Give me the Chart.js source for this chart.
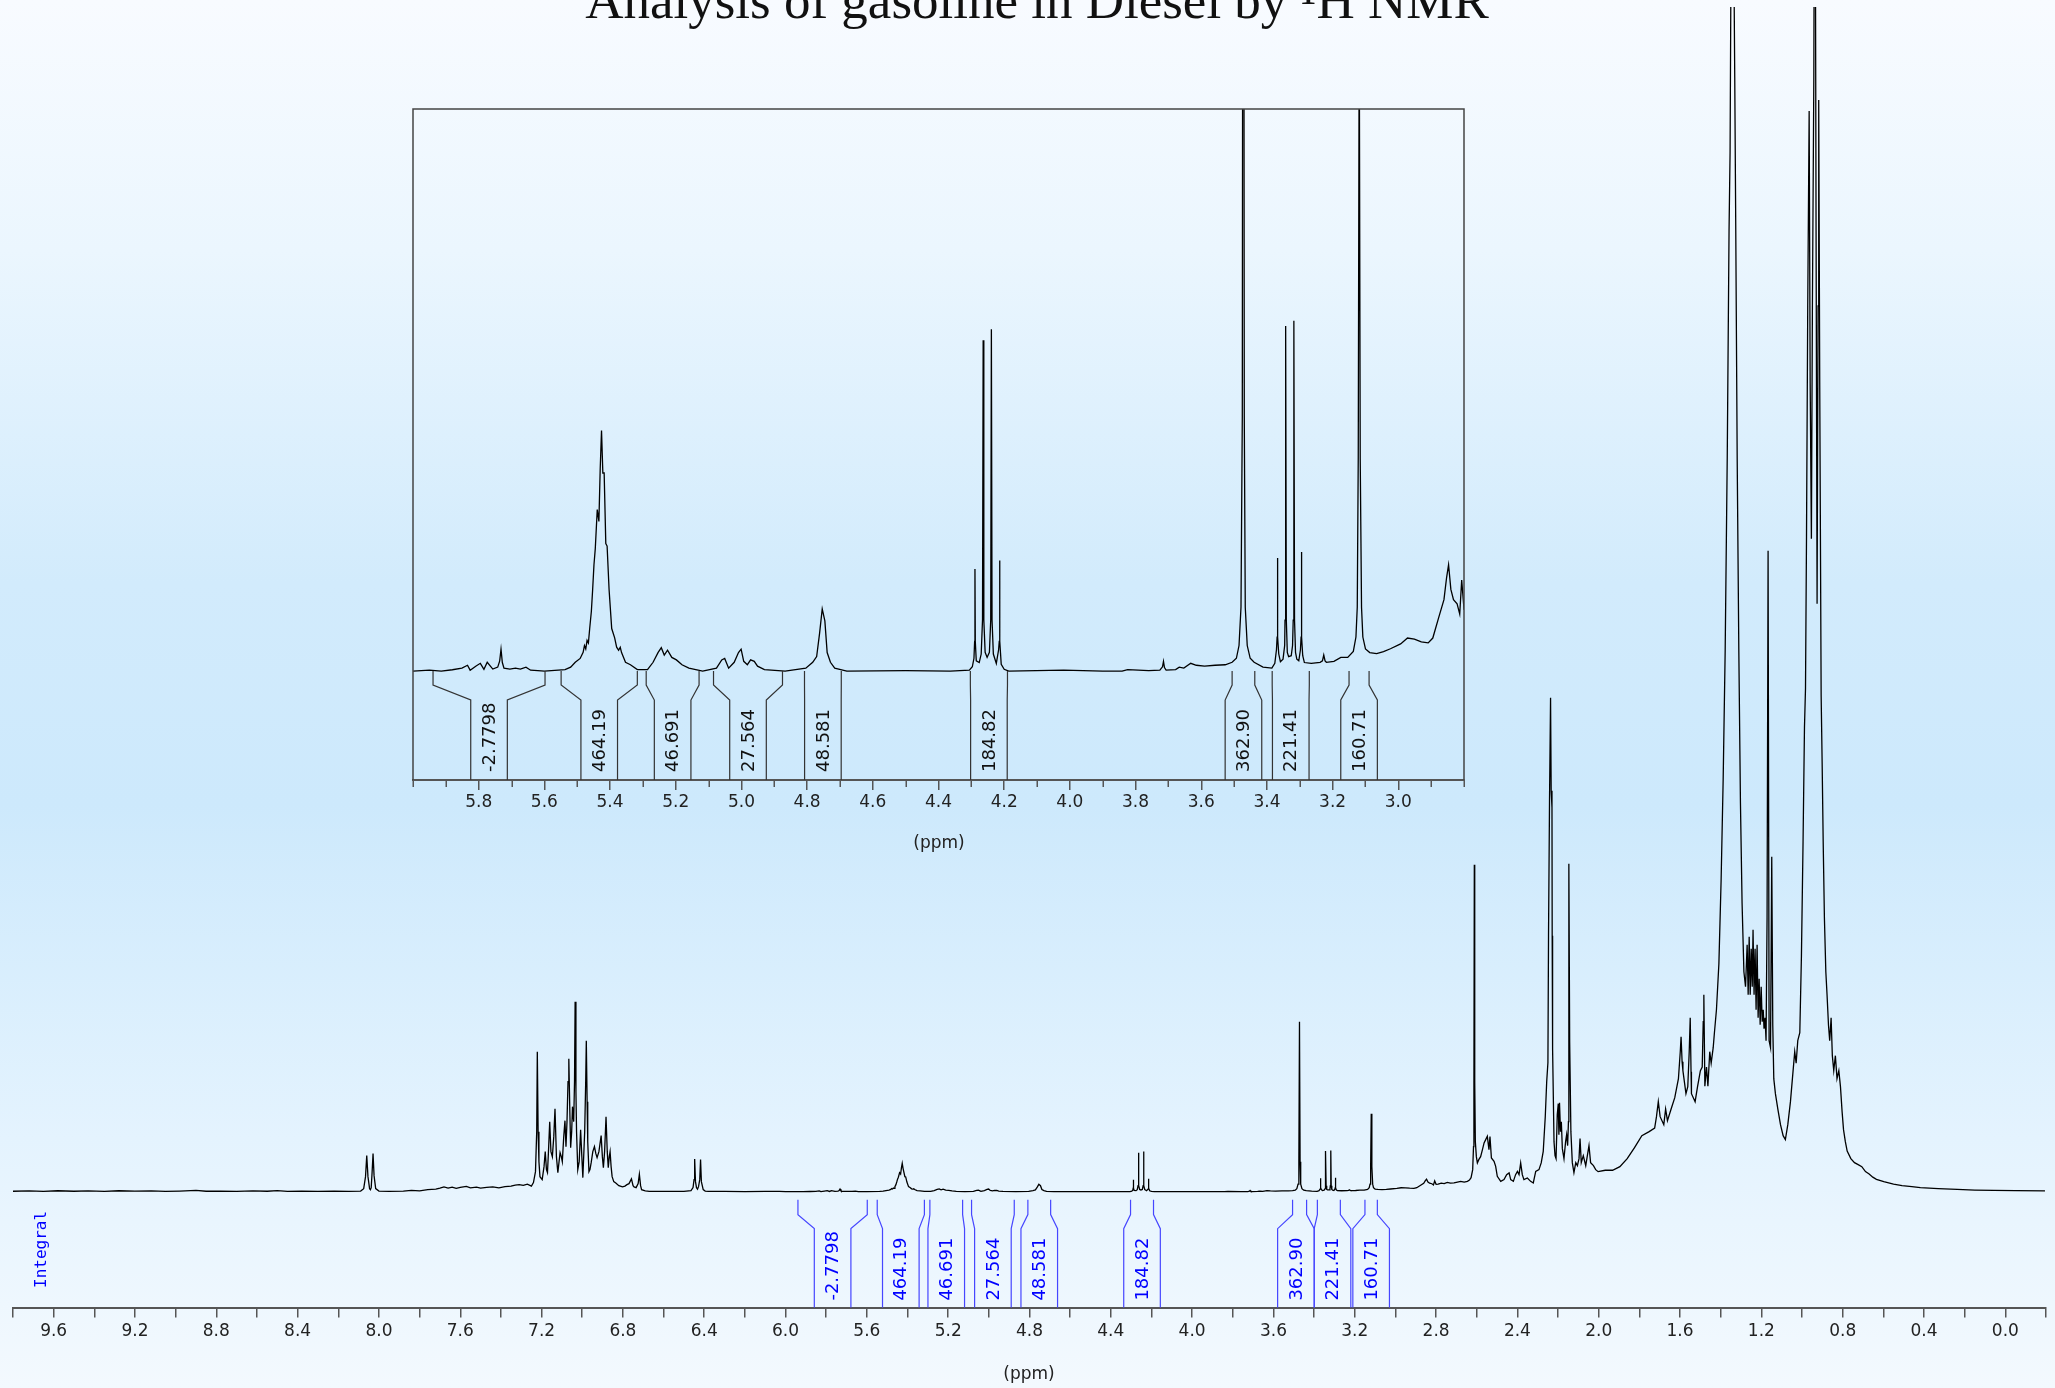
<!DOCTYPE html>
<html>
<head>
<meta charset="utf-8">
<title>Analysis of gasoline in Diesel by 1H NMR</title>
<script src="https://cdn.jsdelivr.net/npm/chart.js@4.4.1/dist/chart.umd.min.js"></script>
<style>
    html, body { margin: 0; padding: 0; }
    body {
        width: 2055px;
        height: 1388px;
        overflow: hidden;
        position: relative;
        background: linear-gradient(to bottom, #f8fbff 0%, #ebf6fe 18%, #d2ebfc 42%, #cde9fc 58%, #e4f3fe 82%, #f3f9fe 100%);
    }
    #main { position: absolute; left: 0; top: 0; }
    #inset { position: absolute; left: 400px; top: 100px; }
</style>
</head>
<body>
<canvas id="main" width="2055" height="1388"></canvas>
<canvas id="inset" width="1080" height="760"></canvas>
<script>
// spectrum: [ppm, intensity]
const farDownfield = [
    [9.80,0.4],[9.72,0.8],[9.65,0.3],[9.58,0.9],[9.50,0.4],[9.43,0.8],[9.35,0.3],[9.28,0.9],[9.20,0.5],[9.12,0.8],
    [9.05,0.2],[8.98,0.6],[8.90,1.2],[8.85,0.4],[8.78,0.6],[8.70,0.3],[8.62,0.7],[8.55,0.4],[8.50,1.0],[8.45,0.3],
    [8.38,0.5],[8.30,0.2],[8.22,0.5],[8.15,0.3],[8.09,0.6],
    [8.075,3],[8.066,15],[8.060,36],[8.054,15],[8.046,3],[8.042,2],[8.038,4],[8.034,18],[8.029,38],[8.024,16],
    [8.016,3],[8.00,0.5],[7.95,0.3]
];
const aromatic = [
    [7.88,0.5],[7.84,1.2],[7.80,0.8],[7.76,2.0],[7.72,2.5],[7.70,3.5],[7.68,4.7],[7.66,3.5],[7.64,4.5],[7.62,3.2],
    [7.60,4.2],[7.57,5.3],[7.55,3.8],[7.52,4.5],[7.50,3.5],[7.47,4.2],[7.44,4.7],[7.41,3.8],[7.38,5.0],[7.35,5.5],
    [7.33,6.5],[7.31,7.0],[7.29,6.2],[7.27,7.5],[7.25,5.5],[7.24,9],[7.23,20],[7.224,60],[7.221,140],[7.217,60],
    [7.213,30],[7.208,15],[7.197,12],[7.188,25],[7.182,40],[7.176,22],[7.171,19],[7.165,45],[7.160,70],[7.154,40],
    [7.147,35],[7.140,55],[7.134,83],[7.127,35],[7.120,19],[7.114,30],[7.109,39],[7.103,35],[7.098,30],[7.091,55],
    [7.085,71],[7.080,45],[7.075,70],[7.070,110],[7.066,133],[7.061,80],[7.057,44],[7.052,60],[7.048,85],[7.042,70],
    [7.038,110],[7.035,190],[7.031,100],[7.028,60],[7.022,22],[7.015,30],[7.008,62],[7.002,35],[6.997,14],[6.988,60],
    [6.983,110],[6.980,151],[6.976,90],[6.973,50],[6.967,20],[6.962,22],[6.956,29],[6.948,40],[6.940,45],[6.933,38],
    [6.927,34],[6.918,40],[6.907,56],[6.901,35],[6.896,24],[6.890,40],[6.883,75],[6.877,40],[6.872,24],[6.867,35],
    [6.863,40],[6.858,25],[6.853,15],[6.845,10],[6.835,8.7],[6.820,6],[6.802,4.7],[6.790,5.5],[6.780,7],[6.770,8],
    [6.758,12.7],[6.750,6],[6.745,4.7],[6.735,4],[6.725,8],[6.719,17.3],[6.713,6],[6.708,2],[6.690,0.8],[6.670,0.3],
    [6.60,0.2],[6.50,0.3],[6.465,1],[6.455,4],[6.450,12],[6.447,32.7],[6.443,10],[6.438,4],[6.433,2.5],[6.428,5],
    [6.422,12],[6.418,32],[6.414,10],[6.405,2],[6.395,0.6],[6.38,0.2],[6.30,0.3],[6.20,0.1],[6.10,0.3],[6.03,0.2]
];
const olefinic = [
    [6.00,0],[5.95,0.1],[5.914,0],[5.88,0.15],[5.851,0.34],[5.834,0.68],[5.826,0.1],[5.809,0.57],[5.795,0.91],[5.784,0.2],
    [5.774,1.03],[5.757,0.23],[5.742,0.46],[5.736,1.2],[5.732,2.57],[5.728,1.0],[5.723,0.34],[5.705,0.23],[5.688,0.34],[5.673,0.23],
    [5.656,0.46],[5.642,0.1],[5.62,0.05],[5.600,0],[5.537,0.17],[5.520,0.46],[5.506,1.03],[5.491,1.48],[5.482,2.2],[5.478,3.0],
    [5.474,2.6],[5.470,3.6],[5.466,3.3],[5.462,5.0],[5.457,7.0],[5.453,9.6],[5.449,12.5],[5.445,14.4],[5.439,19.0],[5.434,17.6],
    [5.430,23.8],[5.426,28.3],[5.422,23.3],[5.418,23.3],[5.413,15.0],[5.409,14.7],[5.403,9.6],[5.395,5.0],[5.386,3.9],[5.380,2.8],
    [5.374,2.45],[5.369,2.8],[5.365,2.17],[5.353,1.03],[5.338,0.74],[5.317,0.17],[5.286,0.17],[5.269,1.03],[5.254,2.17],[5.244,2.74],
    [5.235,1.88],[5.225,2.45],[5.212,1.6],[5.198,1.31],[5.181,0.74],[5.160,0.34],[5.118,0],[5.076,0.34],[5.060,1.31],[5.051,1.48],
    [5.039,0.34],[5.022,1.03],[5.009,2.17],[5.001,2.57],[4.993,1.14],[4.982,0.74],[4.972,1.31],[4.961,1.14],[4.951,0.57],[4.930,0.17],
    [4.867,0],[4.804,0.34],[4.783,1.03],[4.771,1.71],[4.762,4.45],[4.754,7.3],[4.746,5.9],[4.739,2.17],[4.729,1.03],[4.716,0.34],
    [4.679,0]
];
const midfield = [
    [4.50,0.05],[4.364,0],[4.306,0.1],[4.297,0.5],[4.292,1.5],[4.290,3.5],[4.289,12.0],[4.288,3.5],[4.285,1.2],[4.276,1.0],
    [4.270,2.0],[4.266,6],[4.264,38.9],[4.262,6],[4.258,2.2],[4.252,1.6],[4.245,2.2],[4.241,6],[4.239,40.2],[4.237,6],
    [4.233,2.0],[4.224,0.9],[4.217,2.5],[4.215,3.5],[4.214,13.0],[4.213,3.5],[4.209,0.8],[4.200,0.2],[4.186,0],[4.019,0.1],
    [3.900,0],[3.841,0],[3.824,0.17],[3.760,0.05],[3.726,0.1],[3.718,0.5],[3.715,1.14],[3.712,0.4],[3.707,0.1],[3.678,0.17],
    [3.667,0.46],[3.653,0.34],[3.632,0.91],[3.615,0.68],[3.590,0.57],[3.558,0.68],[3.527,0.74],[3.506,1.03],[3.493,1.5],[3.485,3.0],
    [3.479,7.5],[3.475,30],[3.472,170],[3.469,30],[3.466,7.5],[3.460,3.0],[3.451,1.5],[3.439,1.03],[3.412,0.46],[3.385,0.34],
    [3.376,0.9],[3.371,2.5],[3.369,4],[3.368,13.3],[3.367,4],[3.364,2.0],[3.359,1.1],[3.351,1.4],[3.346,3],[3.345,6],
    [3.343,40.6],[3.341,6],[3.338,2.2],[3.334,1.7],[3.326,1.8],[3.322,3],[3.320,6],[3.318,41.2],[3.316,6],[3.313,2.2],
    [3.309,1.4],[3.303,1.2],[3.298,2.5],[3.296,4],[3.295,14.0],[3.294,4],[3.291,1.8],[3.286,1.0],[3.265,0.91],[3.238,1.03],
    [3.231,1.2],[3.227,1.88],[3.223,1.2],[3.219,1.03],[3.196,1.14],[3.175,1.6],[3.154,1.6],[3.137,2.3],[3.129,4.0],[3.125,7.5],
    [3.122,25],[3.119,78],[3.116,25],[3.112,7.5],[3.108,4.0],[3.100,2.6],[3.087,2.17],[3.066,2.05],[3.045,2.28],[3.024,2.62],
    [2.993,3.19],[2.972,3.88],[2.951,3.76],[2.930,3.42],[2.909,3.31],[2.895,3.88],[2.878,6.16],[2.861,8.4],[2.853,11.0],[2.847,12.5],
    [2.840,9.6],[2.832,8.4],[2.821,7.9],[2.813,6.7],[2.807,10.7],[2.800,7.3]
];
const aliphatic = [
    [2.790,7.5],[2.775,8.5],[2.760,8.0],[2.745,9.3],[2.730,8.6],[2.712,8.7],[2.695,9.5],[2.679,10.3],[2.662,9.5],[2.646,10.3],
    [2.636,11.5],[2.628,14],[2.620,22],[2.616,45],[2.614,110],[2.612,327],[2.610,110],[2.607,50],[2.602,35],[2.597,28.7],
    [2.590,32],[2.581,35],[2.572,42],[2.564,48.7],[2.556,52],[2.548,55.3],[2.540,42],[2.535,55],[2.528,33.7],[2.515,30.3],
    [2.507,25.3],[2.499,15.3],[2.482,10.3],[2.466,12],[2.453,17],[2.441,18.7],[2.433,12],[2.420,10.3],[2.409,17],[2.400,20.3],
    [2.392,17],[2.384,28.7],[2.376,17],[2.368,12],[2.351,13.7],[2.335,10.3],[2.322,8.7],[2.310,20.3],[2.294,22],[2.283,28.7],
    [2.273,40.3],[2.263,75],[2.256,110],[2.250,129],[2.247,256],[2.242,394],[2.237,494],[2.234,401],[2.230,384],[2.229,256],
    [2.227,143],[2.220,50],[2.215,36],[2.210,33],[2.204,77],[2.199,88],[2.196,57],[2.193,89],[2.188,60],[2.184,70],
    [2.179,43],[2.171,33],[2.163,50],[2.158,57],[2.153,46],[2.149,70],[2.147,328],[2.143,150],[2.137,60],[2.130,29],
    [2.122,19],[2.113,29],[2.105,26],[2.097,33],[2.092,53],[2.086,29],[2.076,36],[2.064,26],[2.056,36],[2.048,46],
    [2.040,29],[2.026,26],[2.015,22],[2.003,20],[1.968,21.4],[1.932,21.4],[1.896,25],[1.860,33],[1.824,44],[1.788,56],
    [1.752,60],[1.725,63.5],[1.716,75],[1.707,90],[1.698,75],[1.680,67],[1.671,82.6],[1.662,71],[1.644,82.6],[1.626,94],
    [1.608,113],[1.599,140],[1.595,155],[1.590,130],[1.586,121],[1.571,98],[1.562,105],[1.555,140],[1.550,174],[1.546,120],
    [1.544,98],[1.526,90],[1.514,105],[1.500,121]
];
const methyl = [
    [1.491,124.7],[1.486,170],[1.483,197],[1.478,105.5],[1.470,124.7],[1.463,105.5],[1.454,140],[1.447,128.5],[1.437,144],[1.431,159],
    [1.421,182],[1.409,228],[1.398,312],[1.388,412],[1.378,542],[1.368,733],[1.359,962],[1.354,1039],[1.349,1250],[1.342,1600],
    [1.336,1250],[1.331,1115],[1.326,962],[1.319,733],[1.311,542],[1.303,389],[1.295,289],[1.286,220],[1.278,205],[1.270,247],
    [1.265,197],[1.260,255],[1.255,197],[1.250,243],[1.245,205],[1.241,262],[1.236,197],[1.231,243],[1.226,182],[1.221,247],
    [1.216,174],[1.211,213],[1.206,167],[1.201,205],[1.196,170],[1.191,182],[1.187,163],[1.182,174],[1.177,151],[1.172,274],
    [1.167,641],[1.162,151],[1.155,144],[1.149,335],[1.144,167],[1.139,113],[1.131,98],[1.119,82.6],[1.106,67],[1.093,56],
    [1.082,52],[1.070,67],[1.057,90],[1.044,121],[1.036,140],[1.029,128.5],[1.021,151],[1.011,159],[1.003,235.6],[0.995,350],
    [0.988,465],[0.983,503],[0.978,656],[0.972,886],[0.965,1081],[0.960,809],[0.954,653],[0.949,886],[0.942,1115],[0.937,1500],
    [0.931,962],[0.926,588],[0.921,886],[0.918,1092],[0.913,809],[0.906,496],[0.901,427],[0.896,350],[0.890,274],[0.883,220],
    [0.877,197],[0.870,167],[0.864,151],[0.857,174],[0.851,136],[0.844,121],[0.836,136],[0.828,113],[0.819,121],[0.811,105],
    [0.803,80],[0.796,62],[0.787,50],[0.778,40.5],[0.760,33],[0.742,29],[0.724,27],[0.706,25],[0.688,20],[0.670,17.6],
    [0.652,14.5],[0.634,12.3],[0.598,10],[0.550,7.5],[0.508,6],[0.460,5],[0.418,4],[0.330,3],[0.237,2.2],[0.150,1.6],
    [0.057,1.3],[-0.05,1.0],[-0.195,0.7]
];

// integrals (ppm range and value)
const integralFrom = [5.939, 5.549, 5.290, 5.085, 4.808, 4.303, 3.506, 3.384, 3.150];
const integralTo = [5.598, 5.317, 5.129, 4.875, 4.696, 4.190, 3.437, 3.271, 3.089];
const integralValues = [-2.7798, 464.19, 46.691, 27.564, 48.581, 184.82, 362.90, 221.41, 160.71];

// tick labels
const mainTickLabels = [9.6, 9.2, 8.8, 8.4, 8.0, 7.6, 7.2, 6.8, 6.4, 6.0, 5.6, 5.2, 4.8, 4.4, 4.0, 3.6, 3.2, 2.8, 2.4, 2.0, 1.6, 1.2, 0.8, 0.4, 0.0];
const insetTickLabels = [5.8, 5.6, 5.4, 5.2, 5.0, 4.8, 4.6, 4.4, 4.2, 4.0, 3.8, 3.6, 3.4, 3.2, 3.0];

const spectrum = [...farDownfield, ...aromatic, ...olefinic, ...midfield, ...aliphatic, ...methyl]
    .map(p => ({ x: p[0], y: p[1] }));

function tickValues(from, to, step) {
    const out = [];
    const n = Math.round((to - from) / step);
    for (let i = 0; i <= n; i++) out.push(Math.round((from + i * step) * 10) / 10);
    return out;
}

function isLabelled(list, v) {
    const r = Math.round(v * 10) / 10;
    return list.some(l => Math.abs(l - r) < 1e-6);
}

function labelFor(list) {
    return v => isLabelled(list, v) ? Math.abs(Math.round(v * 10) / 10).toFixed(1) : '';
}

const tickFont = { family: 'DejaVu Sans', size: 17 };

// integral brackets + rotated values
const integralPlugin = {
    id: 'integrals',
    afterDatasetsDraw(chart, args, opts) {
        const { ctx, chartArea, scales: { x, y } } = chart;
        const base = y.getPixelForValue(0);
        const hw = opts.hw;
        const items = integralFrom.map((f, i) => {
            const l = x.getPixelForValue(f);
            const r = x.getPixelForValue(integralTo[i]);
            return { l, r, c: (l + r) / 2, v: integralValues[i] };
        });
        // keep labels from overlapping
        for (let k = 0; k < 30; k++) {
            for (let i = 1; i < items.length; i++) {
                const gap = items[i].c - items[i - 1].c;
                if (gap < 2 * hw) {
                    const d = (2 * hw - gap) / 2;
                    items[i - 1].c -= d;
                    items[i].c += d;
                }
            }
        }
        const yTop = base + opts.top, yS1 = base + opts.s1, yS2 = base + opts.s2, yBot = chartArea.bottom;
        ctx.save();
        ctx.strokeStyle = opts.lineColor;
        ctx.lineWidth = 1.2;
        items.forEach(it => {
            ctx.beginPath();
            ctx.moveTo(it.l, yTop); ctx.lineTo(it.l, yS1); ctx.lineTo(it.c - hw, yS2); ctx.lineTo(it.c - hw, yBot);
            ctx.moveTo(it.r, yTop); ctx.lineTo(it.r, yS1); ctx.lineTo(it.c + hw, yS2); ctx.lineTo(it.c + hw, yBot);
            ctx.stroke();
        });
        ctx.fillStyle = opts.textColor;
        ctx.font = '18px "DejaVu Sans"';
        ctx.textAlign = 'left';
        ctx.textBaseline = 'middle';
        items.forEach(it => {
            ctx.save();
            ctx.translate(it.c + 1, yBot - opts.gap);
            ctx.rotate(-Math.PI / 2);
            ctx.fillText(it.v.toPrecision(5), 0, 0);
            ctx.restore();
        });
        ctx.restore();
    }
};

const mainTextPlugin = {
    id: 'mainText',
    afterDraw(chart) {
        const ctx = chart.ctx;
        ctx.save();
        ctx.fillStyle = '#111';
        ctx.font = '53px "Liberation Serif"';
        ctx.textAlign = 'center';
        ctx.textBaseline = 'alphabetic';
        ctx.fillText('Analysis of gasoline in Diesel by \u00B9H NMR', 1037, 18);

        ctx.font = '17px "DejaVu Sans"';
        ctx.textBaseline = 'middle';
        ctx.fillStyle = '#222';
        ctx.fillText('(ppm)', 1029, 1375);

        ctx.fillStyle = '#0000ff';
        ctx.font = '16px "DejaVu Sans Mono"';
        ctx.translate(42, 1288);
        ctx.rotate(-Math.PI / 2);
        ctx.textAlign = 'left';
        ctx.fillText('Integral', 0, 0);
        ctx.restore();
    }
};

const insetTextPlugin = {
    id: 'insetText',
    afterDatasetsDraw(chart) {
        const { ctx, chartArea: a, scales: { x } } = chart;
        ctx.save();
        ctx.strokeStyle = '#444';
        ctx.lineWidth = 1.5;
        ctx.beginPath();
        ctx.moveTo(a.left, a.bottom); ctx.lineTo(a.left, a.top);
        ctx.lineTo(a.right, a.top); ctx.lineTo(a.right, a.bottom);
        ctx.stroke();
        // shorter minor ticks between the labelled ones
        ctx.strokeStyle = '#555';
        ctx.beginPath();
        x.ticks.forEach(t => {
            if (isLabelled(insetTickLabels, t.value)) return;
            const px = Math.round(x.getPixelForValue(t.value)) + 0.25;
            ctx.moveTo(px, a.bottom);
            ctx.lineTo(px, a.bottom + 7);
        });
        ctx.stroke();
        ctx.fillStyle = '#222';
        ctx.font = '17px "DejaVu Sans"';
        ctx.textAlign = 'center';
        ctx.textBaseline = 'middle';
        ctx.fillText('(ppm)', 539, 744);
        ctx.restore();
    }
};

function spectrumDataset() {
    return {
        data: spectrum,
        borderColor: '#000',
        borderWidth: 1.3,
        pointRadius: 0,
        tension: 0,
        fill: false
    };
}

// whole spectrum
new Chart(document.getElementById('main'), {
    type: 'line',
    data: { datasets: [spectrumDataset()] },
    options: {
        responsive: false,
        animation: false,
        devicePixelRatio: 1,
        layout: { padding: { left: 13, right: 9, top: 7, bottom: 42 } },
        plugins: {
            legend: { display: false },
            tooltip: { enabled: false },
            integrals: { top: 8, s1: 23, s2: 37, hw: 18.3, gap: 7, lineColor: '#4646ff', textColor: '#0000ff' }
        },
        scales: {
            x: {
                type: 'linear',
                reverse: true,
                min: -0.2,
                max: 9.8,
                afterBuildTicks: axis => { axis.ticks = tickValues(-0.2, 9.8, 0.2).map(v => ({ value: v })); },
                ticks: { autoSkip: false, maxRotation: 0, padding: 4, color: '#222', font: tickFont, callback: labelFor(mainTickLabels) },
                grid: { drawOnChartArea: false, drawTicks: true, tickLength: 10, color: '#555', lineWidth: 1.5 },
                border: { display: true, color: '#555', width: 2 }
            },
            y: { display: false, min: -116, max: 1185 }
        }
    },
    plugins: [integralPlugin, mainTextPlugin]
});

// zoomed inset 6.0 - 2.8 ppm, same data
new Chart(document.getElementById('inset'), {
    type: 'line',
    data: { datasets: [spectrumDataset()] },
    options: {
        responsive: false,
        animation: false,
        devicePixelRatio: 1,
        layout: { padding: { left: 13, right: 16, top: 9, bottom: 45.6 } },
        plugins: {
            legend: { display: false },
            tooltip: { enabled: false },
            integrals: { top: 0, s1: 14, s2: 29, hw: 18.3, gap: 8, lineColor: '#333', textColor: '#111' }
        },
        scales: {
            x: {
                type: 'linear',
                reverse: true,
                min: 2.8,
                max: 6.0,
                afterBuildTicks: axis => { axis.ticks = tickValues(2.8, 6.0, 0.1).map(v => ({ value: v })); },
                ticks: { autoSkip: false, maxRotation: 0, padding: 2, color: '#222', font: tickFont, callback: labelFor(insetTickLabels) },
                grid: {
                    drawOnChartArea: false, drawTicks: true, tickLength: 10, lineWidth: 1.5,
                    // only the labelled ticks get the full length mark
                    tickColor: c => (c.tick && isLabelled(insetTickLabels, c.tick.value)) ? '#555' : 'rgba(0,0,0,0)'
                },
                border: { display: true, color: '#555', width: 2 }
            },
            y: { display: false, min: -12.82, max: 66.12 }
        }
    },
    plugins: [integralPlugin, insetTextPlugin]
});
</script>
</body>
</html>
